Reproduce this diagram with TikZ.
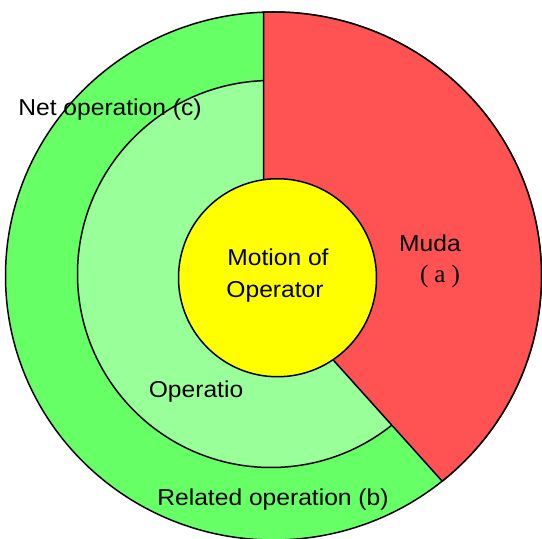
\documentclass[tikz,border=0pt]{standalone}
\usepackage{fontspec}
\setmainfont{Liberation Sans}[FakeStretch=1.07]
\newfontfamily\parenfont{Liberation Serif}
\begin{document}
\begin{tikzpicture}[x=1pt,y=1pt,line width=1.5pt,
  ring/.style={draw=black},
  lbl/.style={font=\fontsize{23}{27}\selectfont, inner sep=0pt}]
  \definecolor{outergreen}{HTML}{66FF66}
  \definecolor{innergreen}{HTML}{99FF99}
  \definecolor{mudared}{HTML}{FF5252}
  \definecolor{coreyellow}{HTML}{FFFF00}
  \useasboundingbox[fill=white] (0,0) rectangle (542,539);

  % outer ring: related operation
  \fill[outergreen, ring] (273.5,263) ellipse [x radius=268, y radius=264];
  % inner disc: net operation
  \fill[innergreen, ring] (271,265) circle [radius=193.5];
  % wedge of muda
  \coordinate (wA) at (263.5,357);
  \coordinate (wB) at (331.7,180.7);
  \filldraw[fill=mudared, draw=black, line join=round]
    (wA) -- (263.5,526.8)
    arc [start angle=92.14, end angle=-51, x radius=268, y radius=264]
    -- (wB) -- cycle;
  % core
  \node[circle, fill=coreyellow, draw=black, minimum size=198, inner sep=0pt]
    (core) at (277.5,261.25) {};

  \node[lbl] (motion) at (278,282) {Motion of};
  \node[lbl] (oper)   at (275,247) {Operator};
  \node[lbl] (muda)   at (430,296) {Muda};
  \node[inner sep=0pt, font=\parenfont\fontsize{25}{28}\selectfont] (a) at (440,263)
    {(\hspace{6pt}a\hspace{6pt})};
  \node[lbl] (net)    at (110,429) {Net operation (c)};
  \node[lbl] (opn)    at (196,147) {Operatio};
  \node[lbl] (rel)    at (273,39)  {Related operation (b)};
\end{tikzpicture}
\end{document}
